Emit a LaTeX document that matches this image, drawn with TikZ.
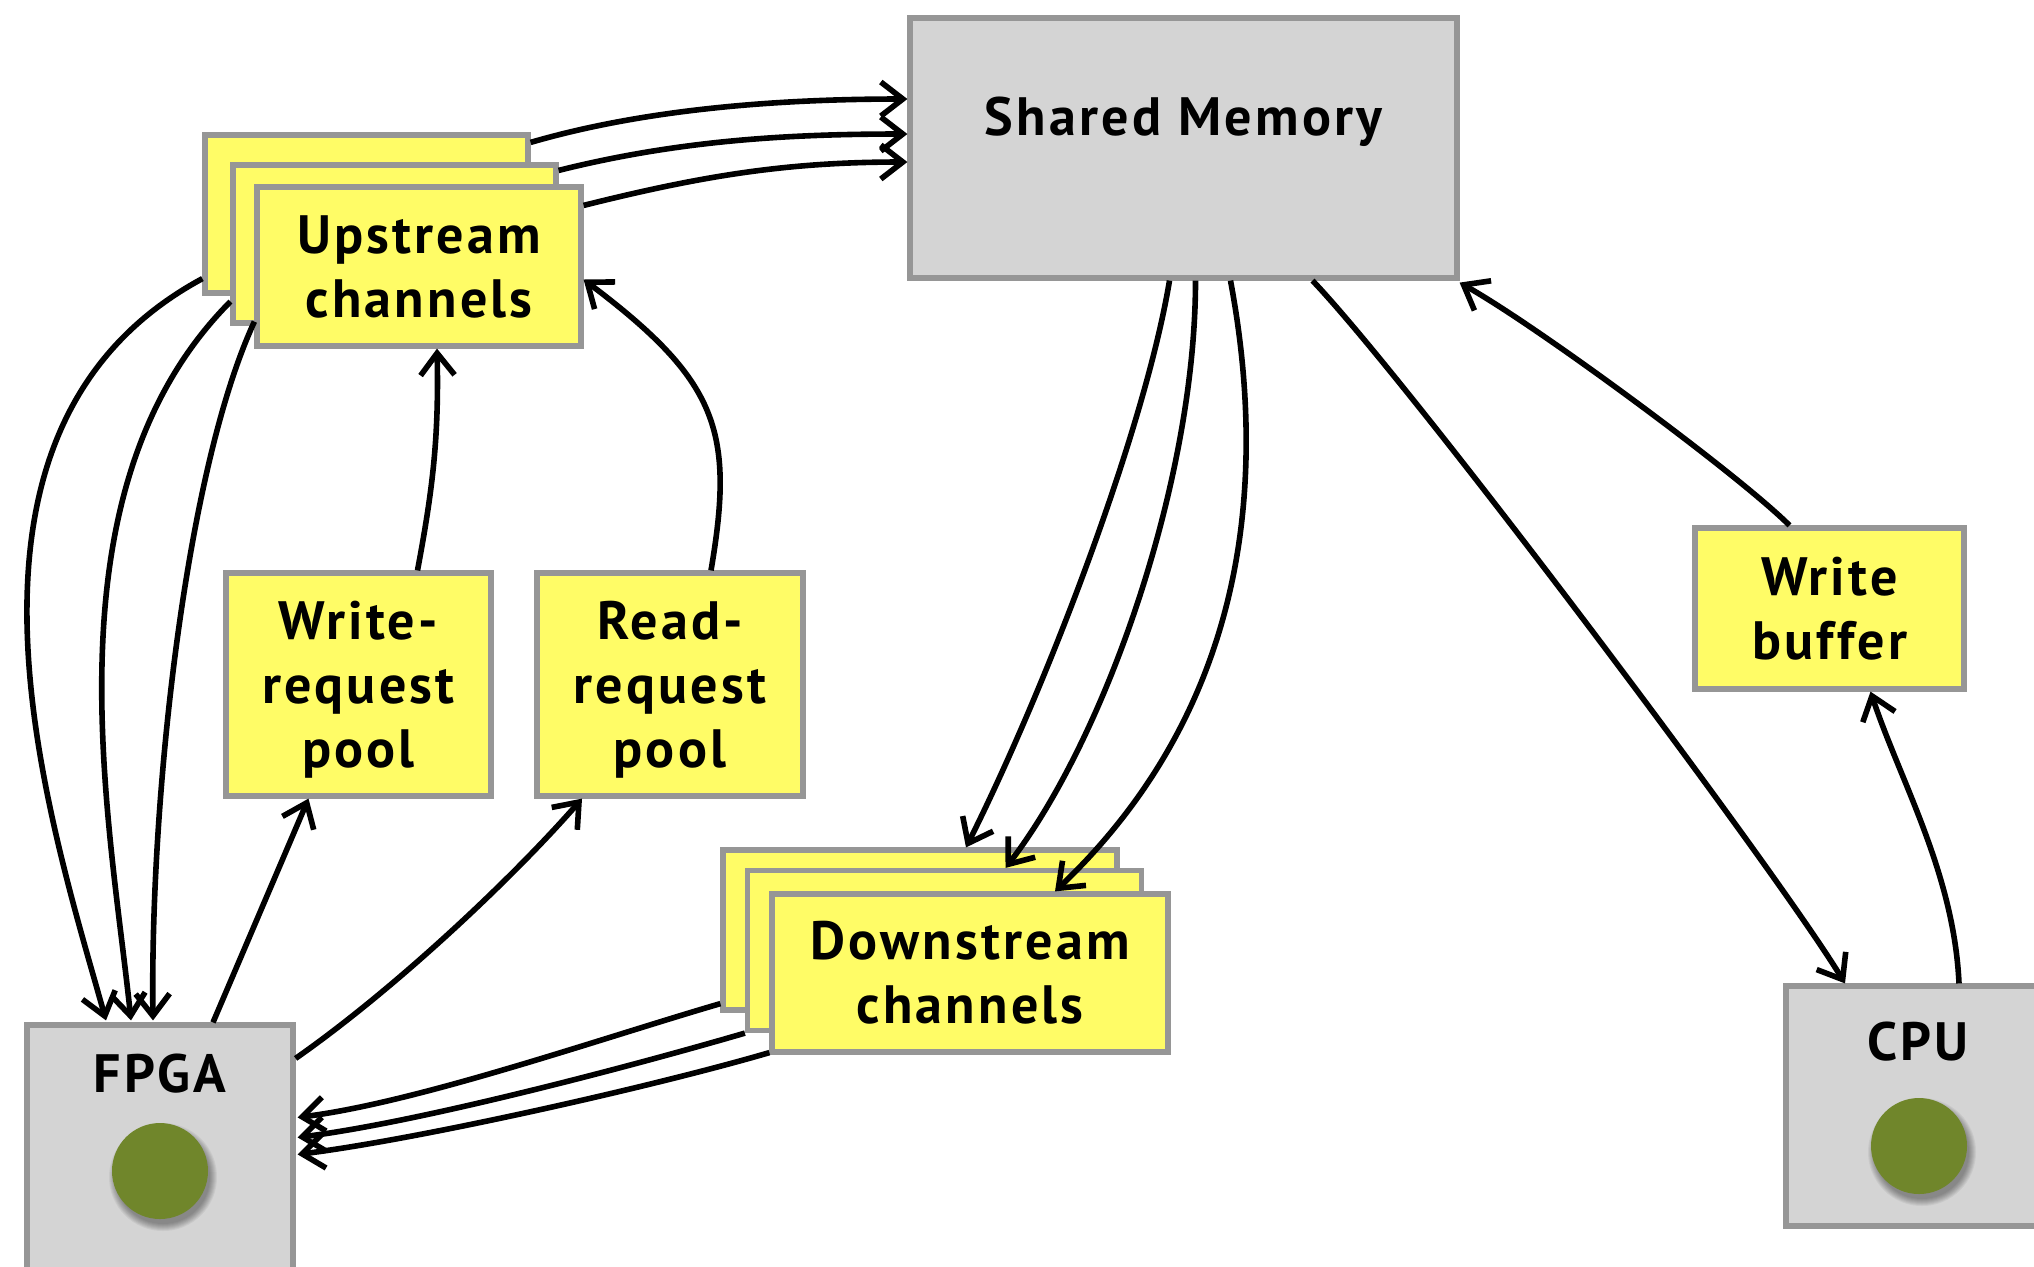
\documentclass[tikz,border=0pt]{standalone}
\usepackage{fontspec}
\setmainfont{PT Sans}[LetterSpace=6]
\usetikzlibrary{arrows.meta,calc}
\definecolor{chanyellow}{RGB}{255,252,102}
\definecolor{boxgray}{RGB}{212,212,212}
\definecolor{edgegray}{RGB}{150,150,150}
\definecolor{dotgreen}{RGB}{112,134,43}

\begin{document}
\begin{tikzpicture}[x=0.5pt,y=-0.5pt,
  box/.style={draw=edgegray, line width=2.6pt, inner sep=0pt, align=center,
              font=\fontsize{27}{32}\selectfont\bfseries},
  ybox/.style={box, fill=chanyellow},
  gbox/.style={box, fill=boxgray},
  lbl/.style={font=\fontsize{27}{32}\selectfont\bfseries, inner sep=0pt, anchor=base},
  dot/.style={circle, fill=dotgreen, minimum size=48pt, inner sep=0pt},
  link/.style={line width=2.8pt, -{Straight Barb[length=11pt,width=17pt]}},
]
\fill[white] (0,0) rectangle (2034,1266);
\useasboundingbox (0,0) rectangle (2034,1266);

% shared memory
\node[gbox, minimum width=273.5pt, minimum height=130pt] (sm) at (1183.5,148) {};
\node[lbl] (smtext) at (1183.5,135) {Shared Memory};

% upstream channel stack
\node[ybox, minimum width=161.5pt, minimum height=79pt] (upA) at (366.5,214) {};
\node[ybox, minimum width=161.5pt, minimum height=79pt] (upB) at (394.5,244) {};
\node[ybox, minimum width=162pt, minimum height=79.5pt] (upC) at (419,266.5) {Upstream\\channels};

% downstream channel stack
\node[ybox, minimum width=197pt, minimum height=80pt] (dnA) at (920,930) {};
\node[ybox, minimum width=197pt, minimum height=80pt] (dnB) at (944.5,950.5) {};
\node[ybox, minimum width=198pt, minimum height=79pt] (dnC) at (970,973) {Downstream\\channels};

% request pools and write buffer
\node[ybox, text depth=-1pt, minimum width=132.5pt, minimum height=111.5pt] (wrp) at (358.5,684.5) {Write-\\request\\pool};
\node[ybox, text depth=-1pt, minimum width=133pt, minimum height=111.5pt] (rrp) at (670,684.5) {Read-\\request\\pool};
\node[ybox, minimum width=134.5pt, minimum height=80.5pt] (wb) at (1829.5,608.5) {Write\\buffer};

% processors
\node[gbox, minimum width=133pt, minimum height=129pt] (fpga) at (160,1154) {};
\node[lbl] (fpgatext) at (160,1092) {FPGA};
\node[gbox, minimum width=133pt, minimum height=120pt] (cpu) at (1919,1106) {};
\node[lbl] (cputext) at (1918,1060) {CPU};

\coordinate (fpgac) at (160,1171);
\coordinate (cpuc) at (1919,1146);
\foreach \k in {0,...,7} {
  \fill[black, opacity=0.05] ($(fpgac)+(3,6)$) circle[radius={(54-\k)*0.5pt}];
  \fill[black, opacity=0.05] ($(cpuc)+(3,6)$) circle[radius={(54-\k)*0.5pt}];
}
\node[dot] (fpgadot) at (fpgac) {};
\node[dot] (cpudot) at (cpuc) {};

% upstream channels -> shared memory
\draw[link] ($(upA.north east)+(0,10)$) .. controls +(120,-35) and +(-120,0) .. ($(sm.west)+(0,-49)$);
\draw[link] ($(upB.north east)+(0,8)$) .. controls +(120,-30) and +(-120,0) .. ($(sm.west)+(0,-14)$);
\draw[link] ($(upC.north east)+(0,21)$) .. controls +(120,-30) and +(-120,0) .. ($(sm.west)+(0,14)$);

% upstream channels -> FPGA
\draw[link] ($(upA.south west)+(0,-17)$) .. controls +(-282,152) and +(-56,-200) .. ($(fpga.north)+(-54,-2)$);
\draw[link] ($(upB.south west)+(0,-24)$) .. controls +(-188,189) and +(-21,-201) .. ($(fpga.north)+(-29,-2)$);
\draw[link] ($(upC.south west)+(0,-27)$) .. controls +(-69,149) and +(-3,-221) .. ($(fpga.north)+(-7,-2)$);

% request pools -> upstream channels
\draw[link] ($(wrp.north)+(59,0)$) .. controls +(15,-80) and +(2,90) .. ($(upC.south)+(18,0)$);
\draw[link] ($(rrp.north)+(41,0)$) .. controls +(24,-140) and +(134,101) .. ($(upC.east)+(0,13)$);

% FPGA -> request pools
\draw[link] ($(fpga.north)+(53,0)$) -- ($(wrp.south)+(-50,0)$);
\draw[link] ($(fpga.north east)+(0,36)$) .. controls +(100,-70) and +(-70,80) .. ($(rrp.south)+(-88,0)$);

% downstream channels -> FPGA
\draw[link] ($(dnA.south west)+(0,-9)$) .. controls +(-120,35) and +(120,-15) .. ($(fpga.north east)+(2,95)$);
\draw[link] ($(dnB.south west)+(0,0)$) .. controls +(-120,35) and +(120,-15) .. ($(fpga.north east)+(2,115)$);
\draw[link] ($(dnC.south west)+(0,-2)$) .. controls +(-120,35) and +(120,-15) .. ($(fpga.north east)+(2,132)$);

% shared memory -> downstream channels
\draw[link] ($(sm.south)+(-14,0)$) .. controls +(-25,150) and +(80,-160) .. ($(dnA.north)+(46,0)$);
\draw[link] ($(sm.south)+(12,0)$) .. controls +(0,200) and +(100,-130) .. ($(dnB.north)+(61,0)$);
\draw[link] ($(sm.south)+(47,0)$) .. controls +(45,240) and +(170,-162) .. ($(dnC.north)+(85,0)$);

% shared memory -> CPU, CPU -> write buffer -> shared memory
\draw[link] ($(sm.south)+(129,0)$) .. controls +(100,105) and +(-70,-115) .. ($(cpu.north)+(-74,0)$);
\draw[link] ($(wb.north)+(-40,0)$) .. controls +(-50,-50) and +(80,45) .. ($(sm.south east)+(0,2)$);
\draw[link] ($(cpu.north)+(40,0)$) .. controls +(-5,-110) and +(30,90) .. ($(wb.south)+(41,0)$);
\end{tikzpicture}
\end{document}
